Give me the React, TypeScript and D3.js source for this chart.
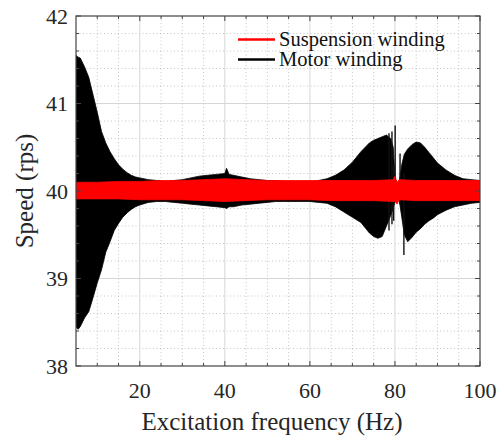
import * as d3 from "d3";

// envelope of the motor winding response (black)
const motorFreq = [
  5, 5.5, 6, 7, 8, 9, 10, 11, 12, 13, 14, 15, 16, 17, 18, 19, 20, 22, 24, 26, 28, 30, 32, 34, 36,
  38, 40, 40.4, 41, 42, 44, 46, 48, 50, 52, 54, 56, 58, 60, 62, 64, 66, 68, 70, 72, 74, 75, 76,
  77, 78, 79, 79.6, 80, 80.5, 81, 81.6, 82.2, 83, 84, 85, 86, 87, 88, 89, 90, 92, 94, 96, 98, 100,
];
const motorUpper = [
  41.55, 41.53, 41.52, 41.42, 41.3, 41.1, 40.9, 40.68, 40.55, 40.45, 40.37, 40.3, 40.25, 40.21,
  40.18, 40.16, 40.15, 40.13, 40.12, 40.11, 40.12, 40.13, 40.15, 40.17, 40.18, 40.19, 40.2, 40.26,
  40.19, 40.18, 40.16, 40.14, 40.13, 40.12, 40.12, 40.11, 40.11, 40.1, 40.1, 40.12, 40.14, 40.18,
  40.24, 40.33, 40.45, 40.55, 40.58, 40.6, 40.62, 40.64, 40.6, 40.5, 40.15, 40.08, 40.1, 40.3,
  40.42, 40.48, 40.53, 40.56, 40.55, 40.5, 40.44, 40.38, 40.32, 40.24, 40.18, 40.14, 40.13, 40.12,
];
const motorLower = [
  38.45, 38.42, 38.45, 38.55, 38.62, 38.78, 38.95, 39.1, 39.3, 39.42, 39.55, 39.63, 39.7, 39.75,
  39.79, 39.82, 39.84, 39.87, 39.88, 39.88, 39.87, 39.86, 39.85, 39.84, 39.83, 39.82, 39.81, 39.8,
  39.82, 39.82, 39.84, 39.85, 39.86, 39.87, 39.88, 39.88, 39.88, 39.88, 39.88, 39.87, 39.86, 39.82,
  39.76, 39.7, 39.64, 39.52, 39.48, 39.46, 39.48, 39.6, 39.72, 39.8, 39.88, 39.92, 39.9, 39.7,
  39.5, 39.42, 39.47, 39.53, 39.57, 39.62, 39.66, 39.69, 39.73, 39.78, 39.82, 39.84, 39.86, 39.87,
];

// single strands near the 80 Hz resonance
const spikeFreq = [78.6, 79.3, 79.7, 80.05, 81.2, 82.1];
const spikeTop = [40.66, 40.68, 40.3, 40.75, 40.43, 40.2];
const spikeBottom = [39.55, 39.62, 39.66, 39.88, 39.85, 39.27];

// envelope of the suspension winding response (red)
const suspFreq = [5, 10, 15, 20, 25, 30, 35, 40, 45, 50, 55, 60, 65, 70, 75, 79.5, 80, 80.5, 81, 85, 90, 95, 100];
const suspUpper = [
  40.1, 40.1, 40.11, 40.11, 40.12, 40.12, 40.13, 40.14, 40.13, 40.12, 40.12, 40.12, 40.12, 40.12,
  40.12, 40.13, 40.17, 40.1, 40.13, 40.12, 40.12, 40.12, 40.12,
];
const suspLower = [
  39.91, 39.91, 39.91, 39.9, 39.9, 39.9, 39.89, 39.88, 39.89, 39.9, 39.9, 39.9, 39.89, 39.89,
  39.89, 39.88, 39.88, 39.85, 39.9, 39.89, 39.89, 39.89, 39.89,
];

const xTicks = [20, 40, 60, 80, 100];
const yTicks = [38, 39, 40, 41, 42];

const legendLabels = ["Suspension winding", "Motor winding"];
const legendColors = ["#ff0000", "#000000"];

export default function App() {
  const width = 498;
  const height = 439;
  const left = 76;
  const right = 480;
  const top = 16;
  const bottom = 366;
  const font = "'Liberation Serif', 'Times New Roman', serif";
  const ink = "#262626";

  const x = d3.scaleLinear().domain([5, 100]).range([left, right]);
  const y = d3.scaleLinear().domain([38, 42]).range([bottom, top]);

  const xMinor = d3.range(10, 100, 5).filter((v) => v % 20 !== 0);
  const yMinor = d3.range(38.2, 42, 0.2).filter((v) => Math.abs(v - Math.round(v)) > 0.01);

  const motorArea = d3
    .area<number>()
    .x((i) => x(motorFreq[i]))
    .y0((i) => y(motorLower[i]))
    .y1((i) => y(motorUpper[i]));
  const suspArea = d3
    .area<number>()
    .x((i) => x(suspFreq[i]))
    .y0((i) => y(suspLower[i]))
    .y1((i) => y(suspUpper[i]));

  return (
    <svg
      width={width}
      height={height}
      style={{ position: "absolute", left: 0, top: 0, background: "#fff" }}
      fontFamily={font}
    >
      <defs>
        <clipPath id="plot">
          <rect x={left} y={top} width={right - left} height={bottom - top} />
        </clipPath>
      </defs>
      <rect x={left} y={top} width={right - left} height={bottom - top} fill="#fff" />

      {/* minor grid */}
      <g stroke="#b8b8b8" strokeWidth={0.8} strokeDasharray="1,2.5">
        {xMinor.map((v) => (
          <line key={"gx" + v} x1={x(v)} x2={x(v)} y1={top} y2={bottom} />
        ))}
        {yMinor.map((v) => (
          <line key={"gy" + v} x1={left} x2={right} y1={y(v)} y2={y(v)} />
        ))}
      </g>
      {/* major grid */}
      <g stroke="#d6d6d6" strokeWidth={1}>
        {xTicks.slice(0, -1).map((v) => (
          <line key={"Gx" + v} x1={x(v)} x2={x(v)} y1={top} y2={bottom} />
        ))}
        {yTicks.slice(1, -1).map((v) => (
          <line key={"Gy" + v} x1={left} x2={right} y1={y(v)} y2={y(v)} />
        ))}
      </g>

      <g clipPath="url(#plot)">
        <path d={motorArea(d3.range(motorFreq.length)) ?? ""} fill="#000" stroke="#000" strokeWidth={0.8} />
        {spikeFreq.map((f, i) => (
          <line
            key={"s" + i}
            x1={x(f)}
            x2={x(f)}
            y1={y(spikeTop[i])}
            y2={y(spikeBottom[i])}
            stroke="#111"
            strokeWidth={1.4}
          />
        ))}
        <path d={suspArea(d3.range(suspFreq.length)) ?? ""} fill="#ff0000" stroke="#ff0000" strokeWidth={0.8} />
      </g>

      {/* box */}
      <rect x={left} y={top} width={right - left} height={bottom - top} fill="none" stroke="#444" strokeWidth={1.2} />

      {/* ticks */}
      <g stroke="#444" strokeWidth={1}>
        {xTicks.map((v) => (
          <g key={"tx" + v}>
            <line x1={x(v)} x2={x(v)} y1={bottom} y2={bottom - 5} />
            <line x1={x(v)} x2={x(v)} y1={top} y2={top + 5} />
          </g>
        ))}
        {xMinor.map((v) => (
          <g key={"mx" + v}>
            <line x1={x(v)} x2={x(v)} y1={bottom} y2={bottom - 3} />
            <line x1={x(v)} x2={x(v)} y1={top} y2={top + 3} />
          </g>
        ))}
        {yTicks.map((v) => (
          <g key={"ty" + v}>
            <line x1={left} x2={left + 5} y1={y(v)} y2={y(v)} />
            <line x1={right} x2={right - 5} y1={y(v)} y2={y(v)} />
          </g>
        ))}
        {yMinor.map((v) => (
          <g key={"my" + v}>
            <line x1={left} x2={left + 3} y1={y(v)} y2={y(v)} />
            <line x1={right} x2={right - 3} y1={y(v)} y2={y(v)} />
          </g>
        ))}
      </g>

      {/* tick labels */}
      <g fill={ink} fontSize={22}>
        {xTicks.map((v) => (
          <text key={"lx" + v} x={x(v)} y={398} textAnchor="middle">
            {v}
          </text>
        ))}
        {yTicks.map((v) => (
          <text key={"ly" + v} x={68} y={y(v) + 7.5} textAnchor="end">
            {v}
          </text>
        ))}
      </g>

      <text x={272} y={430} fontSize={25} fill={ink} textAnchor="middle">
        Excitation frequency (Hz)
      </text>
      <text
        transform={`translate(33, ${y(40)}) rotate(-90)`}
        fontSize={25}
        fill={ink}
        textAnchor="middle"
      >
        Speed (rps)
      </text>

      {/* legend */}
      <g fontSize={20.5} fill="#111">
        {legendLabels.map((label, i) => (
          <g key={label} transform={`translate(0, ${39.5 + i * 20})`}>
            <line x1={238} x2={275} y1={0} y2={0} stroke={legendColors[i]} strokeWidth={2.5} />
            <text x={279} y={6}>
              {label}
            </text>
          </g>
        ))}
      </g>
    </svg>
  );
}
